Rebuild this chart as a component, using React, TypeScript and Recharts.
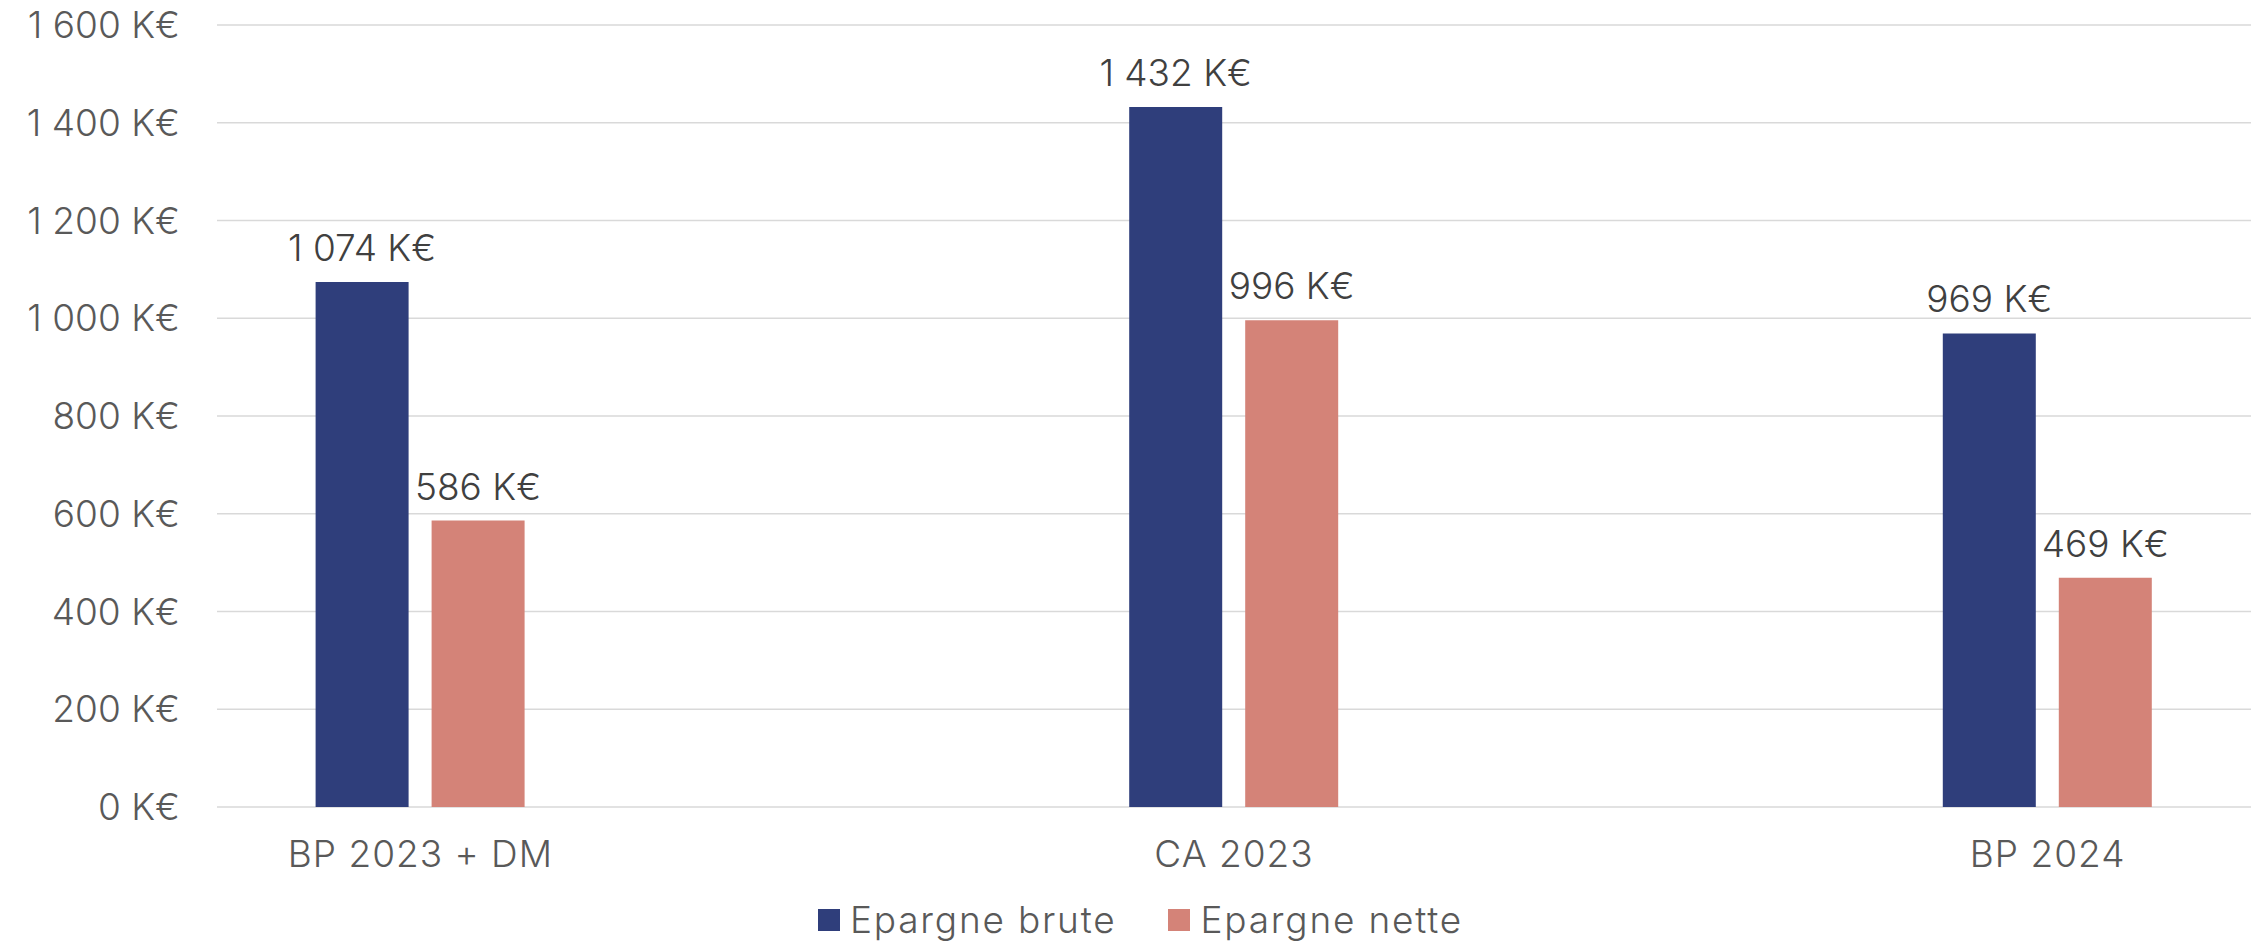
import React from 'react';
import { BarChart, Bar, XAxis, YAxis, CartesianGrid, Legend, LabelList } from 'recharts';

const categories = ['BP 2023 + DM', 'CA 2023', 'BP 2024'];
const epargneBrute = [1074, 1432, 969];
const epargneNette = [586, 996, 469];
const yTicks = [0, 200, 400, 600, 800, 1000, 1200, 1400, 1600];
const seriesNames = ['Epargne brute', 'Epargne nette'];
const colors = ['#2F3E7B', '#D48378'];

const data = categories.map((c, i) => ({ idx: i, cat: c, brute: epargneBrute[i], nette: epargneNette[i] }));

const FONT = 'Inter, "Noto Sans", sans-serif';

const fmt = (v: any) => {
  const n = Number(v);
  if (n >= 1000) {
    return `${Math.floor(n / 1000)} ${String(n % 1000).padStart(3, '0')} K€`;
  }
  return `${n} K€`;
};

const LegendContent = () => (
  <div style={{ height: 50, display: 'flex', justifyContent: 'center', alignItems: 'center', fontFamily: FONT, fontWeight: 300, fontSize: 37, letterSpacing: 1.8, color: '#595959', paddingLeft: 30, lineHeight: '50px' }}>
    {seriesNames.map((n, i) => (
      <div key={n} style={{ display: 'flex', alignItems: 'center', marginRight: i === 0 ? 52 : 0 }}>
        <div style={{ width: 22, height: 22, background: colors[i], marginRight: 10 }} />
        <span>{n}</span>
      </div>
    ))}
  </div>
);

export default function App() {
  return (
    <div style={{ position: 'absolute', left: 0, top: 0, background: '#fff' }}>
      <BarChart width={2259} height={945} data={data} margin={{ top: 25, right: 8, left: 0, bottom: 0 }} barGap={23}>
        <CartesianGrid vertical={false} stroke="#D9D9D9" strokeWidth={1.5} />
        <XAxis
          type="number"
          dataKey="idx"
          domain={[-0.25, 2.25]}
          ticks={[0, 1, 2]}
          tickFormatter={(i: number) => categories[i]}
          axisLine={false}
          tickLine={false}
          tickSize={0}
          tickMargin={34}
          height={88}
          tick={{ fill: '#595959', fontSize: 37, fontFamily: FONT, fontWeight: 300, letterSpacing: 1 }}
          allowDataOverflow
        />
        <YAxis
          domain={[0, 1600]}
          ticks={yTicks}
          tickFormatter={fmt}
          axisLine={false}
          tickLine={false}
          tickSize={0}
          tickMargin={37}
          width={217}
          tick={{ fill: '#595959', fontSize: 37, fontFamily: FONT, fontWeight: 300 }}
        />
        <Legend verticalAlign="bottom" content={<LegendContent />} />
        <Bar dataKey="brute" name={seriesNames[0]} fill={colors[0]} barSize={93} isAnimationActive={false}>
          <LabelList dataKey="brute" position="top" offset={21} formatter={fmt} fill="#404040" fontSize={37} fontFamily={FONT} fontWeight={300} />
        </Bar>
        <Bar dataKey="nette" name={seriesNames[1]} fill={colors[1]} barSize={93} isAnimationActive={false}>
          <LabelList dataKey="nette" position="top" offset={21} formatter={fmt} fill="#404040" fontSize={37} fontFamily={FONT} fontWeight={300} />
        </Bar>
      </BarChart>
    </div>
  );
}
